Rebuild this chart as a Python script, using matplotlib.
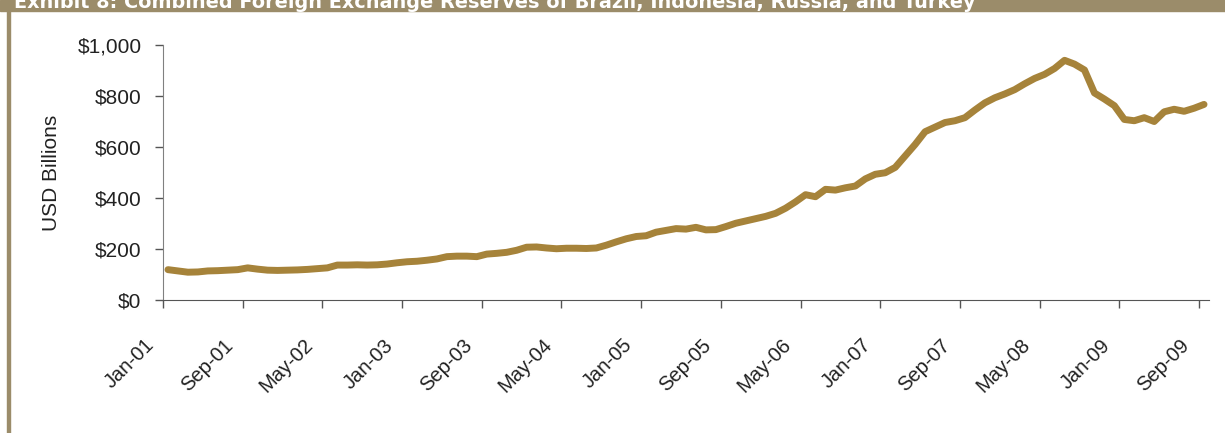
import numpy as np
import pandas as pd
import matplotlib
matplotlib.use('Agg')
import matplotlib.pyplot as plt
import matplotlib.transforms as mtransforms
from matplotlib.patches import Rectangle

# monthly categories Jan-01 .. Sep-09
months = pd.date_range('2001-01-01', periods=105, freq='MS').strftime('%b-%y').tolist()

# combined FX reserves, USD billions
reserves = [
    119, 114, 109, 110, 114, 115, 117, 119, 126, 121,
    117, 116, 117, 118, 120, 123, 126, 137, 137, 138,
    137, 138, 141, 146, 150, 152, 156, 161, 170, 172,
    172, 170, 180, 183, 187, 195, 207, 208, 204, 201,
    203, 203, 202, 204, 215, 228, 240, 249, 252, 266,
    273, 280, 278, 285, 275, 276, 288, 301, 310, 319,
    328, 340, 360, 385, 413, 405, 434, 431, 440, 447,
    475, 493, 499, 520, 565, 610, 660, 678, 696, 703,
    715, 745, 773, 793, 808, 825, 848, 869, 885, 908,
    940, 925, 902, 812, 788, 762, 708, 703, 715, 700,
    738, 748, 740, 752, 767,
]

title = 'Exhibit 8: Combined Foreign Exchange Reserves of Brazil, Indonesia, Russia, and Turkey'
y_ticks = [0, 200, 400, 600, 800, 1000]
y_labels = ['$0', '$200', '$400', '$600', '$800', '$1,000']

plt.rcParams['font.family'] = ['Liberation Sans', 'DejaVu Sans']

W, H = 1225, 433
fig = plt.figure(figsize=(W / 100, H / 100), dpi=100)

# header band and left rule
band = '#9B8C6A'
fig.patches.append(Rectangle((0, 1 - 11 / H), 1, 11 / H, transform=fig.transFigure,
                             color=band, zorder=0))
fig.patches.append(Rectangle((7 / W, 0), 3 / W, 1, transform=fig.transFigure,
                             color=band, zorder=0))
fig.text(14 / W, 1 - 8 / H, title, color='white', fontsize=13.9, fontweight='bold',
         family='DejaVu Sans', va='baseline', ha='left')

ax = fig.add_axes([163 / W, 1 - 300 / H, (1209 - 163) / W, 255 / H])
x = np.arange(len(reserves))
ax.plot(x, reserves, color='#A6833A', lw=5, solid_capstyle='round', solid_joinstyle='round')

ax.set_yticks(y_ticks)
ax.set_yticklabels(y_labels)

# tick marks sit on category boundaries
tick_pos = np.arange(0, len(months), 8)
ax.set_xticks(tick_pos - 0.5)
ax.set_xticklabels([months[i] for i in tick_pos], rotation=45, ha='right', va='top',
                   rotation_mode='anchor')
ax.set_xlim(-0.5, len(reserves) - 0.5)
ax.set_ylim(0, 1000)

for s in ['top', 'right']:
    ax.spines[s].set_visible(False)
ax.spines['left'].set_color('#808080')
ax.spines['bottom'].set_color('#555555')
ax.tick_params(axis='y', length=6, width=1, color='#555555', pad=9.5,
               labelsize=15, labelcolor='#222222')
ax.tick_params(axis='x', length=6, width=1, color='#555555', pad=19.5,
               labelsize=14.5, labelcolor='#222222')
ax.set_ylabel('USD Billions', fontsize=15, color='#222222', labelpad=12)

# nudge the rotated labels left (after tick_params, which resets transforms)
offset = mtransforms.ScaledTranslation(-19 / 100, 0, fig.dpi_scale_trans)
for lab in ax.get_xticklabels():
    lab.set_transform(lab.get_transform() + offset)

fig.savefig('out.png', dpi=100)
